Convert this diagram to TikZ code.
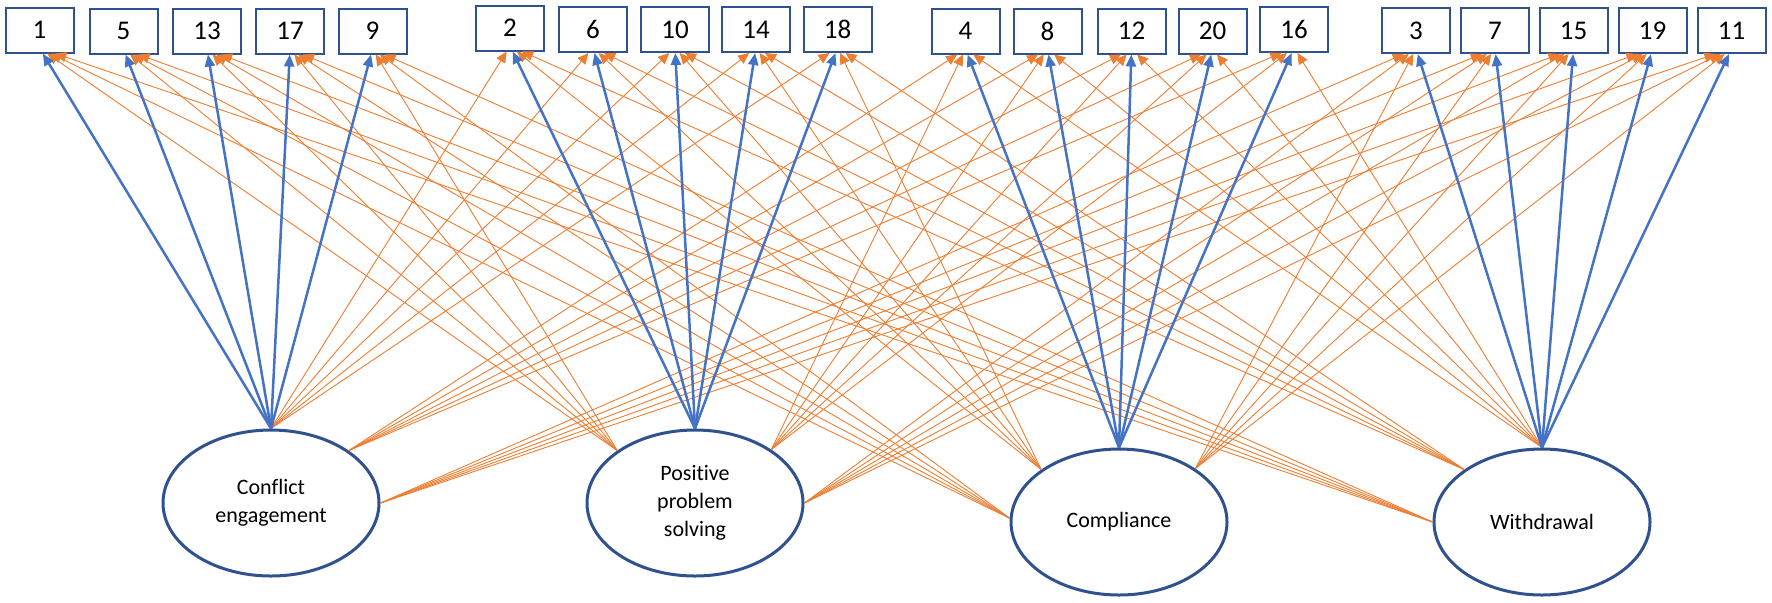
\documentclass[tikz,border=0pt]{standalone}
\usepackage{fontspec}
\setmainfont{Carlito}[Ligatures=NoCommon]
\usetikzlibrary{shapes.geometric,arrows.meta}
\definecolor{lineblue}{HTML}{4472C4}
\definecolor{lineorange}{HTML}{ED7D31}
\definecolor{darkblue}{HTML}{2F528F}
\begin{document}
\begin{tikzpicture}[x=0.5pt,y=-0.5pt,
 itembox/.style={draw=darkblue, line width=1pt, fill=white, minimum width=34pt, minimum height=22.5pt, inner sep=0pt, font=\fontsize{13.5}{16}\selectfont},
 target/.style={inner sep=0pt, minimum width=30pt, minimum height=5pt, anchor=south},
 factor/.style={ellipse, draw=darkblue, line width=1.5pt, fill=white, minimum width=108pt, minimum height=73pt, inner sep=0pt, align=center, font=\fontsize{11}{14}\selectfont},
 load/.style={draw=lineblue, line width=1.25pt, -{Triangle[length=6pt,width=5pt]}},
 cross/.style={draw=lineorange, line width=0.45pt, -{Triangle[length=5.5pt,width=5pt]}}
]
\useasboundingbox (0,0) rectangle (1772,602);
% indicator boxes
\foreach \n/\x/\y in {1/39.5/30, 5/123.5/31, 13/207/31, 17/290/31, 9/372.5/31,
  2/510/28, 6/593/29.5, 10/675/29.5, 14/756/29.5, 18/837.5/29.5,
  4/965.5/31, 8/1047.5/31, 12/1131.5/31, 20/1212.5/31, 16/1294/29.5,
  3/1416/30.5, 7/1495/30.5, 15/1573.5/30.5, 19/1652.5/30.5, 11/1731.5/30.5}{
  \node[itembox] (b\n) at (\x,\y) {\n};
  \node[target] (t\n) at (b\n.south) {};
}
% factors
\node[factor] (ce) at (271,503) {Conflict\\engagement};
\node[factor] (pps) at (695,503) {Positive\\problem\\solving};
\node[factor] (co) at (1119,522) {Compliance};
\node[factor] (wd) at (1542,522) {Withdrawal};
% cross loadings
\foreach \b in {2,6,10,14,18} \draw[cross] (ce.north) -- (t\b);
\foreach \b in {4,8,12,20,16} \draw[cross] (ce.34) -- (t\b);
\foreach \b in {3,7,15,19,11} \draw[cross] (ce.east) -- (t\b);
\foreach \b in {1,5,13,17,9} \draw[cross] (pps.146) -- (t\b);
\foreach \b in {4,8,12,20,16} \draw[cross] (pps.35) -- (t\b);
\foreach \b in {3,7,15,19,11} \draw[cross] (pps.east) -- (t\b);
\foreach \b in {1,5,13,17,9} \draw[cross] (co.178) -- (t\b);
\foreach \b in {2,6,10,14,18} \draw[cross] (co.146) -- (t\b);
\foreach \b in {3,7,15,19,11} \draw[cross] (co.35) -- (t\b);
\foreach \b in {1,5,13,17,9} \draw[cross] (wd.west) -- (t\b);
\foreach \b in {2,6,10,14,18} \draw[cross] (wd.146) -- (t\b);
\foreach \b in {4,8,12,20,16} \draw[cross] (wd.north) -- (t\b);
% main loadings
\foreach \b in {1,5,13,17,9} \draw[load] (ce.north) -- (t\b);
\foreach \b in {2,6,10,14,18} \draw[load] (pps.north) -- (t\b);
\foreach \b in {4,8,12,20,16} \draw[load] (co.north) -- (t\b);
\foreach \b in {3,7,15,19,11} \draw[load] (wd.north) -- (t\b);
\end{tikzpicture}
\end{document}
